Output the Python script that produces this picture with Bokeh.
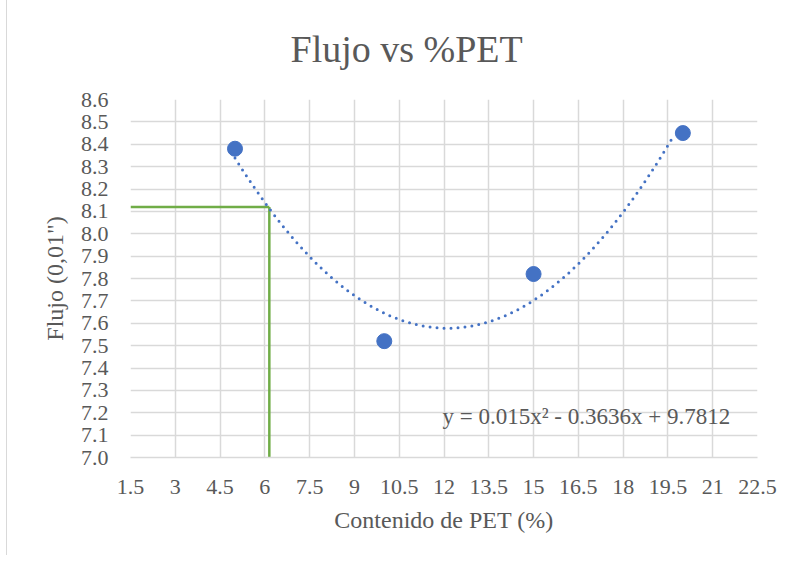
import numpy as np
from bokeh.plotting import figure
from bokeh.models import Range1d, FixedTicker, NumeralTickFormatter, Label
from bokeh.embed import file_html
from bokeh.resources import INLINE

# ---- data ----
pet = [5, 10, 15, 20]
flujo = [8.38, 7.52, 7.82, 8.45]
trend_coef = [0.015, -0.3636, 9.7812]   # y = a x^2 + b x + c
trend_x_range = [5, 19.7]
target_flujo = 8.12
target_pet = 6.15
x_ticks = [1.5, 3, 4.5, 6, 7.5, 9, 10.5, 12, 13.5, 15, 16.5, 18, 19.5, 21, 22.5]
y_ticks = [7.0, 7.1, 7.2, 7.3, 7.4, 7.5, 7.6, 7.7, 7.8, 7.9, 8.0, 8.1, 8.2, 8.3, 8.4, 8.5, 8.6]
title_text = "Flujo  vs %PET"
x_title = "Contenido de PET (%)"
y_title = 'Flujo (0,01")'
eq_text = "y = 0.015x\u00b2 - 0.3636x + 9.7812"

FONT = "Liberation Serif"
TXT = "#595959"
GRID = "#d9d9d9"
BLUE = "#4472C4"
GREEN = "#70AD47"

p = figure(width=780, height=560, output_backend="svg", toolbar_location=None,
           x_range=Range1d(x_ticks[0], x_ticks[-1]), y_range=Range1d(y_ticks[0], y_ticks[-1]),
           min_border_left=123, min_border_right=30, min_border_top=104, min_border_bottom=98)
p.outline_line_color = None
p.background_fill_color = "white"
p.border_fill_color = "white"
p.styles = {"border-left": "1px solid #d9d9d9", "margin-left": "6px", "margin-top": "-5px"}

p.title.text = title_text
p.title.align = "left"
p.title.offset = 160
p.title.standoff = 60
p.title.text_font = "Times New Roman"
p.title.text_font_size = "38px"
p.title.text_font_style = "normal"
p.title.text_color = TXT

p.xaxis.ticker = FixedTicker(ticks=x_ticks)
p.yaxis.ticker = FixedTicker(ticks=y_ticks)
p.xaxis.formatter = NumeralTickFormatter(format="0.[0]")
p.yaxis.formatter = NumeralTickFormatter(format="0.0")

xa = p.xaxis[0]
ya = p.yaxis[0]
for ax in (xa, ya):
    ax.major_tick_line_color = None
    ax.minor_tick_line_color = None
    ax.major_label_text_font_size = "22px"
    ax.major_label_text_color = TXT
    ax.major_label_text_font_style = "normal"
    ax.axis_label_text_font_size = "24px"
    ax.axis_label_text_font_style = "normal"
    ax.axis_label_text_color = TXT

xa.major_label_text_font = FONT
ya.major_label_text_font = FONT
xa.axis_label_text_font = FONT
ya.axis_label_text_font = FONT

xa.axis_label = x_title
ya.axis_label = y_title
xa.axis_line_color = GRID
xa.axis_line_width = 1.5
ya.axis_line_color = None
xa.major_label_standoff = 16
ya.major_label_standoff = 16
xa.axis_label_standoff = 10
ya.axis_label_standoff = 10

p.xgrid.grid_line_color = GRID
p.ygrid.grid_line_color = GRID
p.xgrid.grid_line_width = 1.5
p.ygrid.grid_line_width = 1.5

# green guide lines
p.line([x_ticks[0], target_pet], [target_flujo, target_flujo], line_color=GREEN, line_width=2.5)
p.line([target_pet, target_pet], [y_ticks[0], target_flujo], line_color=GREEN, line_width=2.5)

# trendline
tx = np.linspace(trend_x_range[0], trend_x_range[1], 200)
ty = np.polyval(trend_coef, tx)
p.line(tx, ty, line_color=BLUE, line_width=3, line_dash="0 7", line_cap="round")

# points
p.scatter(pet, flujo, size=15, fill_color=BLUE, line_color=BLUE)

# equation
p.add_layout(Label(x=11.95, y=7.183, text=eq_text, text_font=FONT,
                   text_font_style="normal", text_font_size="23px",
                   text_color=TXT, text_baseline="alphabetic", text_align="left"))

open("out.html", "w").write(file_html(p, INLINE))
